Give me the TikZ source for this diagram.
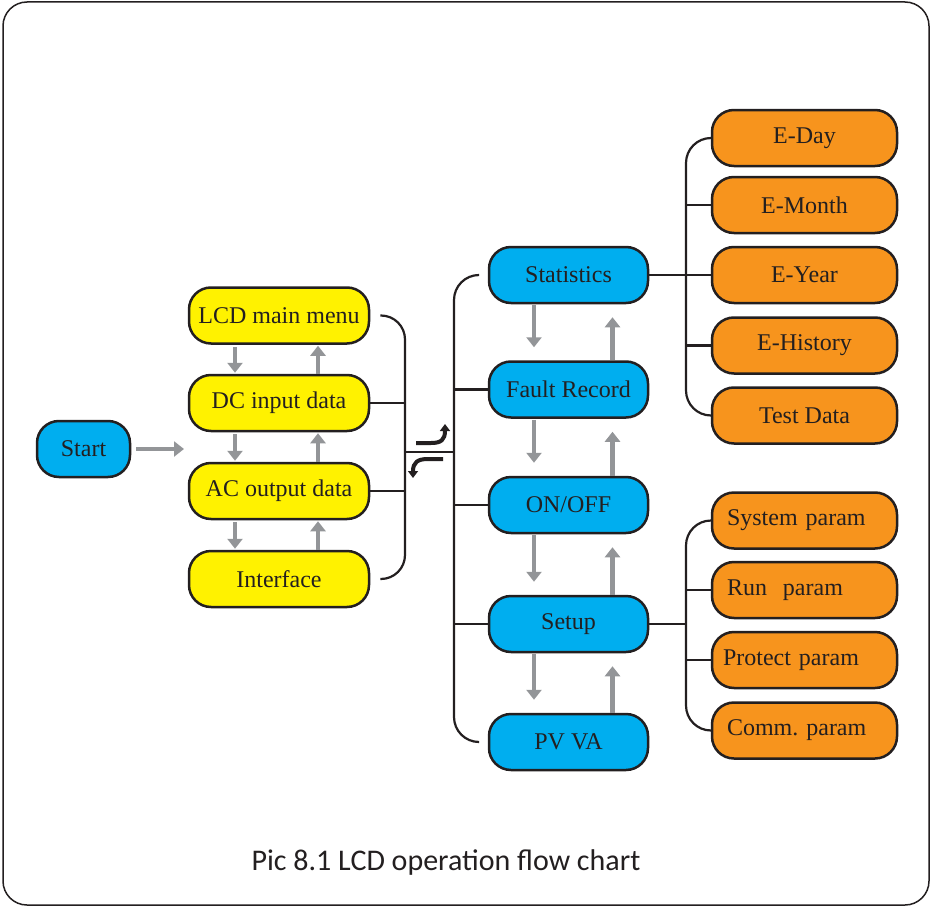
\documentclass[tikz,border=0pt]{standalone}
\usepackage{fontspec}
\setmainfont{Liberation Serif}
\newfontfamily\capfont{Carlito}
\usetikzlibrary{arrows.meta}
\definecolor{dark}{HTML}{231F20}
\definecolor{ycol}{HTML}{FFF200}
\definecolor{bcol}{HTML}{00AEEF}
\definecolor{ocol}{HTML}{F7941D}
\definecolor{gcol}{HTML}{939598}
\begin{document}
\frenchspacing
\begin{tikzpicture}[x=1pt,y=-1pt,
  box/.style={draw=dark, line width=2.5pt, rounded corners=22pt, minimum height=56pt, inner sep=0pt, text=dark, font=\fontsize{24}{28}\selectfont},
  ybox/.style={box, fill=ycol, minimum width=180pt},
  bbox/.style={box, fill=bcol, minimum width=159pt},
  obox/.style={box, fill=ocol, minimum width=185pt},
  lbox/.style={obox, text width=155pt, align=left, inner xsep=15pt, minimum width=185pt},
  conn/.style={draw=dark, line width=2.2pt},
  garrow/.style={draw=gcol, line width=4.5pt, -{Triangle[length=10pt,width=15pt]}},
  carrow/.style={draw=dark, line width=4pt, -{Triangle[length=7pt,width=10pt]}}
]
\useasboundingbox (0,0) rectangle (932,907);
\draw[draw=dark, line width=1.5pt, rounded corners=24pt] (3,2) rectangle (929,905);

% start
\node[box, fill=bcol, minimum width=93pt] (start) at (83.5,449) {Start};
% yellow
\node[ybox] (lcd) at (279,315.5) {LCD main menu};
\node[ybox] (dc) at (279,403) {DC input data};
\node[ybox] (ac) at (279,491) {AC output data};
\node[ybox] (intf) at (279,579) {Interface};
% blue
\node[bbox] (stat) at (568.5,275) {Statistics};
\node[bbox] (fault) at (568.5,389.5) {Fault Record};
\node[bbox] (onoff) at (568.5,505) {ON/OFF};
\node[bbox] (setup) at (568.5,624) {Setup};
\node[bbox] (pv) at (568.5,742) {PV VA};
% orange
\node[obox] (eday) at (804.5,138) {E-Day};
\node[obox] (emonth) at (804.5,205) {E-Month};
\node[obox] (eyear) at (804.5,275) {E-Year};
\node[obox] (ehist) at (804.5,345.5) {E-History};
\node[obox] (test) at (804.5,415.5) {Test Data};
\node[lbox] (sys) at (804.5,520.5) {System param};
\node[lbox] (run) at (804.5,590) {Run\ \ param};
\node[lbox, inner xsep=11pt, text width=163pt] (prot) at (804.5,660) {Protect param};
\node[lbox] (comm) at (804.5,730.5) {Comm. param};

% caption
\node[text=dark, font=\capfont\fontsize{30}{34}\selectfont] (cap) at (446,862) {Pic 8.1 LCD operation flow chart};

% start arrow
\coordinate (sa) at (184,449);
\draw[garrow] ([xshift=5pt]start.east) -- (sa);

% yellow arrows
\foreach \a/\b in {lcd/dc, dc/ac, ac/intf}{
  \draw[garrow, shorten <=2pt, shorten >=1pt] ([xshift=-44pt]\a.south) -- ([xshift=-44pt]\b.north);
  \draw[garrow, shorten <=0pt, shorten >=1pt] ([xshift=39pt]\b.north) -- ([xshift=39pt]\a.south);
}
% blue arrows
\foreach \a/\b in {stat/fault, fault/onoff, onoff/setup, setup/pv}{
  \draw[garrow, shorten <=1pt, shorten >=13pt] ([xshift=-34.5pt]\a.south) -- ([xshift=-34.5pt]\b.north);
  \draw[garrow, shorten <=0pt, shorten >=13pt] ([xshift=44pt]\b.north) -- ([xshift=44pt]\a.south);
}

% yellow bracket
\coordinate (ys) at (405,452);
\draw[conn, rounded corners=24pt] ([xshift=10pt]lcd.east) -| (ys) |- ([xshift=10pt]intf.east);
\draw[conn] (dc.east) -- (dc.east -| ys);
\draw[conn] (ac.east) -- (ac.east -| ys);
% link
\coordinate (bs) at (454,452);
\draw[conn] (ys) -- (bs);
% blue bracket
\draw[conn, rounded corners=25pt] ([xshift=-10pt]stat.west) -| (bs) |- ([xshift=-10pt]pv.west);
\draw[conn] (fault.west) -- (fault.west -| bs);
\draw[conn] (onoff.west) -- (onoff.west -| bs);
\draw[conn] (setup.west) -- (setup.west -| bs);

% curved arrows
\coordinate (u1) at (416,443);
\coordinate (u2) at (431,443);
\coordinate (u3) at (445,424);
\draw[carrow] (u1) -- (u2) .. controls (441,443) and (445,440) .. (u3);
\coordinate (d1) at (443,459);
\coordinate (d2) at (428,459);
\coordinate (d3) at (413,478);
\draw[carrow] (d1) -- (d2) .. controls (418,459) and (413,462) .. (d3);

% orange bracket 1
\coordinate (os1) at (686,275);
\draw[conn, rounded corners=25pt] (eday.west) -| (os1) |- (test.west);
\draw[conn] (stat.east) -- (eyear.west);
\draw[conn] (emonth.west) -- (emonth.west -| os1);
\draw[conn] (ehist.west) -- (ehist.west -| os1);
% orange bracket 2
\coordinate (os2) at (686,624);
\draw[conn, rounded corners=25pt] (sys.west) -| (os2) |- (comm.west);
\draw[conn] (setup.east) -- (os2);
\draw[conn] (run.west) -- (run.west -| os2);
\draw[conn] (prot.west) -- (prot.west -| os2);
\end{tikzpicture}
\end{document}
